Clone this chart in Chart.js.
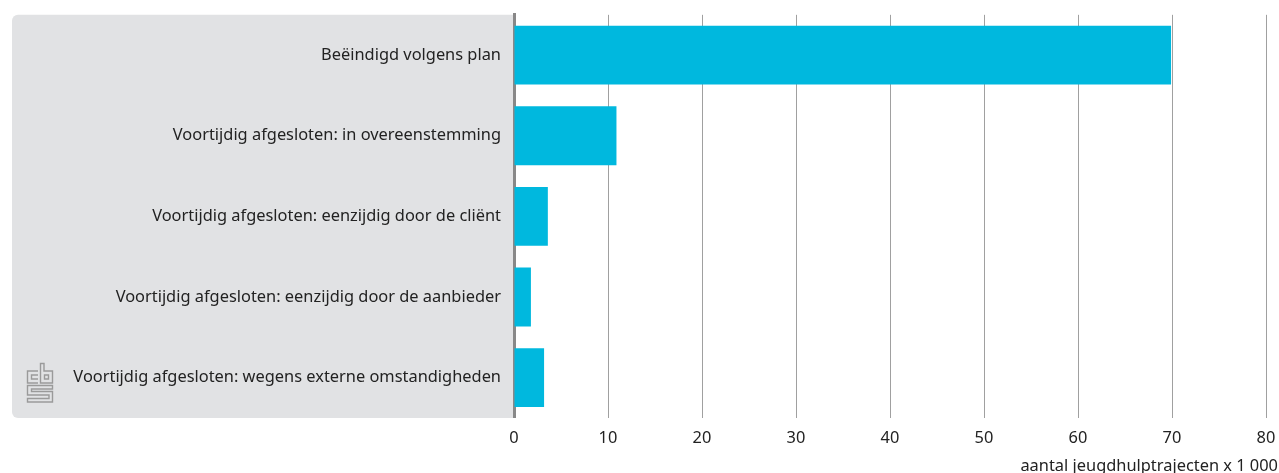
<!DOCTYPE html>
<html>
<head>
<meta charset="utf-8">
<script src="https://cdn.jsdelivr.net/npm/chart.js@4"></script>
<style>
  html, body { margin: 0; padding: 0; overflow: hidden; background: #fff; }
  #wrap { position: relative; width: 1279px; height: 474px; }
</style>
</head>
<body>
<div id="wrap"><canvas id="cBars"></canvas></div>
<script>
// categorieën en waarden (x 1 000)
const categories = [
  'Beëindigd volgens plan',
  'Voortijdig afgesloten: in overeenstemming',
  'Voortijdig afgesloten: eenzijdig door de cliënt',
  'Voortijdig afgesloten: eenzijdig door de aanbieder',
  'Voortijdig afgesloten: wegens externe omstandigheden'
];
const values = [69.9, 10.9, 3.6, 1.8, 3.2];
const xTicks = [0, 10, 20, 30, 40, 50, 60, 70, 80];
const axisTitle = 'aantal jeugdhulptrajecten x 1 000';

const FONT = 'Noto Sans';
const FSIZE = 16.4;

// grijs paneel achter de labels + logo + as-titel
const panelPlugin = {
  id: 'panel',
  beforeDraw(chart) {
    const { ctx, chartArea: a } = chart;
    const x0 = 12, r = 6;
    ctx.save();
    ctx.fillStyle = '#e1e2e4';
    ctx.beginPath();
    ctx.moveTo(a.left, a.top);
    ctx.lineTo(x0 + r, a.top);
    ctx.arcTo(x0, a.top, x0, a.top + r, r);
    ctx.lineTo(x0, a.bottom - r);
    ctx.arcTo(x0, a.bottom, x0 + r, a.bottom, r);
    ctx.lineTo(a.left, a.bottom);
    ctx.closePath();
    ctx.fill();

    // cbs logo (schets)
    ctx.strokeStyle = '#9a9a9a';
    ctx.lineWidth = 1.4;
    ctx.beginPath();
    // c
    ctx.moveTo(38, 371); ctx.lineTo(27.5, 371); ctx.lineTo(27.5, 383); ctx.lineTo(38, 383);
    ctx.moveTo(38, 375); ctx.lineTo(31.5, 375); ctx.lineTo(31.5, 379); ctx.lineTo(38, 379);
    // b
    ctx.moveTo(40.5, 363.5); ctx.lineTo(44, 363.5); ctx.lineTo(44, 371); ctx.lineTo(52.5, 371);
    ctx.lineTo(52.5, 383); ctx.lineTo(40.5, 383); ctx.closePath();
    ctx.rect(44.5, 375, 4, 4);
    // s
    ctx.moveTo(52.5, 385.5); ctx.lineTo(27.5, 385.5); ctx.lineTo(27.5, 395); ctx.lineTo(49, 395);
    ctx.lineTo(49, 398.5); ctx.lineTo(27.5, 398.5); ctx.lineTo(27.5, 402); ctx.lineTo(52.5, 402);
    ctx.lineTo(52.5, 391.5); ctx.lineTo(31.5, 391.5); ctx.lineTo(31.5, 389); ctx.lineTo(52.5, 389);
    ctx.closePath();
    ctx.stroke();
    ctx.restore();
  },
  afterDraw(chart) {
    const { ctx } = chart;
    ctx.save();
    ctx.font = FSIZE + 'px "' + FONT + '"';
    ctx.fillStyle = '#222';
    ctx.textAlign = 'right';
    ctx.textBaseline = 'middle';
    ctx.fillText(axisTitle, 1278, 466);
    ctx.restore();
  }
};

new Chart(document.getElementById('cBars'), {
  type: 'bar',
  data: {
    labels: categories,
    datasets: [{
      data: values,
      backgroundColor: '#00b8de',
      borderWidth: 0,
      categoryPercentage: 0.73,
      barPercentage: 1
    }]
  },
  options: {
    indexAxis: 'y',
    responsive: true, maintainAspectRatio: false,
    animation: false,
    layout: { padding: { left: 0, right: 13, top: 11, bottom: 0 } },
    plugins: { legend: { display: false }, tooltip: { enabled: false } },
    scales: {
      x: {
        min: 0, max: 80,
        afterBuildTicks: s => { s.ticks = xTicks.map(v => ({ value: v })); },
        afterFit: s => { s.height = 56; s.paddingRight = 0; s.paddingLeft = 0; },
        grid: { color: '#a0a0a0', lineWidth: 1, drawTicks: false },
        border: { display: false },
        ticks: { color: '#222', font: { family: FONT, size: FSIZE }, padding: 10 }
      },
      y: {
        afterFit: s => { s.width = 514; },
        grid: { display: false },
        border: { color: '#888', width: 3 },
        ticks: { color: '#222', font: { family: FONT, size: FSIZE }, padding: 5 }
      }
    }
  },
  plugins: [panelPlugin]
});
</script>
</body>
</html>
